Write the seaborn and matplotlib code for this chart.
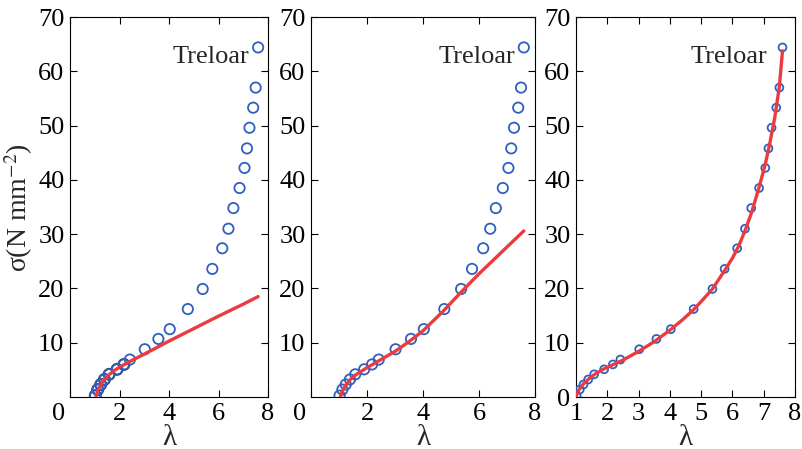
import numpy as np
import pandas as pd
import seaborn as sns
import matplotlib.pyplot as plt
from matplotlib.transforms import ScaledTranslation

# Treloar uniaxial data
lam_data = [1.02, 1.12, 1.24, 1.39, 1.58, 1.90, 2.18, 2.42, 3.02, 3.57, 4.03,
            4.76, 5.36, 5.75, 6.15, 6.40, 6.60, 6.85, 7.05, 7.15, 7.25, 7.40,
            7.50, 7.60]
sig_data = [0.26, 1.37, 2.30, 3.23, 4.18, 5.10, 6.00, 6.90, 8.80, 10.70, 12.50,
            16.20, 19.90, 23.60, 27.40, 31.00, 34.80, 38.50, 42.20, 45.80,
            49.60, 53.30, 57.00, 64.40]

# model curves
lam_fit1 = [1.05, 1.10, 1.20, 1.30, 1.40, 1.60, 1.80, 2.00, 2.20, 2.40, 3.00,
            4.00, 5.00, 6.00, 7.00, 7.60]
sig_fit1 = [0.1, 0.9, 1.9, 2.7, 3.3, 4.2, 4.9, 5.5, 6.0, 6.5, 7.9, 10.3, 12.6,
            14.9, 17.1, 18.5]

lam_fit2 = [1.05, 1.10, 1.20, 1.40, 1.60, 2.00, 2.40, 3.00, 3.50, 4.00, 4.70,
            5.30, 6.00, 6.75, 7.60]
sig_fit2 = [0.0, 0.9, 1.9, 3.2, 4.1, 5.4, 6.6, 8.4, 10.2, 12.2, 15.7, 19.0,
            22.7, 26.4, 30.6]

lam_fit3 = [1.00, 1.05, 1.10, 1.25, 1.40, 1.60, 1.90, 2.20, 2.50, 3.00, 3.50,
            4.00, 4.40, 4.76, 5.05, 5.36, 5.75, 6.00, 6.20, 6.40, 6.60, 6.85,
            7.05, 7.20, 7.35, 7.50, 7.60]
sig_fit3 = [0.0, 0.8, 1.4, 2.5, 3.3, 4.2, 5.2, 6.0, 6.8, 8.4, 10.2, 12.3,
            14.2, 16.1, 17.9, 19.9, 23.3, 25.6, 27.8, 30.6, 33.8, 38.6,
            42.9, 46.9, 51.4, 57.2, 63.8]

xticks_a = [0, 2, 4, 6, 8]
xticks_c = [1, 2, 3, 4, 5, 6, 7, 8]
yticks_ab = [10, 20, 30, 40, 50, 60, 70]
yticks_c = [0, 10, 20, 30, 40, 50, 60, 70]

sns.set_theme(style="ticks")
plt.rcParams['font.family'] = ['Liberation Serif', 'DejaVu Serif']
plt.rcParams['mathtext.fontset'] = 'stix'

BLUE = '#2f5fbf'
RED = '#ec3b3f'
FS = 19

data = pd.DataFrame({'lam': lam_data, 'sig': sig_data})
fits = [pd.DataFrame({'lam': lam_fit1, 'sig': sig_fit1}),
        pd.DataFrame({'lam': lam_fit2, 'sig': sig_fit2}),
        pd.DataFrame({'lam': lam_fit3, 'sig': sig_fit3})]

fig = plt.figure(figsize=(8.02, 4.49), dpi=100)
positions = [[0.0873, 0.1158, 0.2469, 0.8463],
             [0.3878, 0.1158, 0.2793, 0.8463],
             [0.7182, 0.1158, 0.2731, 0.8463]]
text_x = [0.71, 0.74, 0.70]

for i, pos in enumerate(positions):
    ax = fig.add_axes(pos)
    msize = 55 if i < 2 else 32
    if i == 0:
        # dark outlined markers under the fit near the origin
        low = data[data['lam'] < 2.3]
        sns.scatterplot(data=low, x='lam', y='sig', ax=ax, marker='o', s=62,
                        facecolor='none', edgecolor='#2a3550', linewidth=1.4,
                        zorder=2, legend=False)
    sns.scatterplot(data=data, x='lam', y='sig', ax=ax, marker='o', s=msize,
                    facecolor='none', edgecolor=BLUE, linewidth=1.3,
                    zorder=3, legend=False)
    sns.lineplot(data=fits[i], x='lam', y='sig', ax=ax, color=RED,
                 linewidth=2.4, estimator=None, zorder=4)

    if i < 2:
        ax.set_xlim(0, 8)
        ax.set_xticks(xticks_a)
        ax.set_yticks(yticks_ab)
    else:
        ax.set_xlim(1, 8)
        ax.set_xticks(xticks_c)
        ax.set_yticks(yticks_c)
    ax.set_ylim(0, 70)
    ax.tick_params(direction='in', top=True, right=True, length=5,
                   width=0.8, labelsize=FS, pad=4, colors='black')
    for sp in ax.spines.values():
        sp.set_linewidth(0.8)
        sp.set_color('black')
    ax.set_xlabel('λ', fontsize=FS + 2, labelpad=0)
    ax.set_ylabel('')
    ax.text(text_x[i], 0.895, 'Treloar', transform=ax.transAxes,
            fontsize=FS, ha='center', va='center')

    if i < 2:
        # the zero label sits a bit left of the axis corner
        for lbl in ax.get_xticklabels():
            if lbl.get_text() == '0':
                lbl.set_transform(lbl.get_transform() +
                                  ScaledTranslation(-0.11, 0, fig.dpi_scale_trans))

    if i == 0:
        ax.set_ylabel('σ(N mm$^{-2}$)', fontsize=FS + 1, labelpad=2)

fig.savefig('out.png', dpi=100)
